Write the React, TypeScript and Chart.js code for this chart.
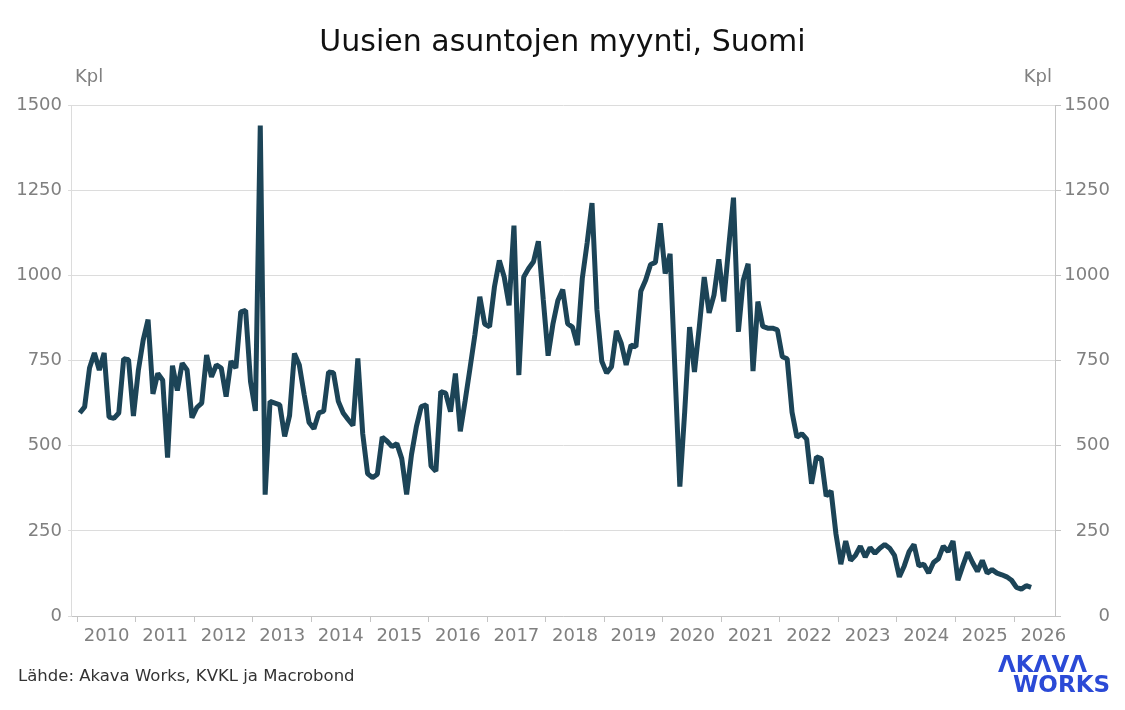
import React, { useEffect, useRef } from 'react';
import { Chart, registerables } from 'chart.js';

Chart.register(...registerables);

// Monthly sales of new dwellings (kpl)
const sales2010 = [596, 614, 728, 772, 722, 772, 584, 580, 596, 755, 752, 587];
const sales2011 = [720, 810, 870, 652, 712, 692, 465, 735, 662, 742, 722, 582];
const sales2012 = [612, 625, 766, 702, 737, 728, 644, 748, 728, 893, 897, 688];
const sales2013 = [602, 1440, 356, 630, 625, 620, 527, 588, 771, 737, 650, 568];
const sales2014 = [550, 596, 601, 716, 714, 630, 596, 577, 559, 756, 535, 418];
const sales2015 = [406, 416, 525, 513, 497, 506, 462, 357, 474, 556, 615, 620];
const sales2016 = [440, 425, 659, 654, 600, 712, 542, 632, 728, 826, 937, 857];
const sales2017 = [849, 966, 1044, 995, 912, 1146, 707, 995, 1020, 1040, 1100, 930];
const sales2018 = [764, 858, 926, 958, 858, 848, 795, 990, 1095, 1212, 900, 748];
const sales2019 = [713, 732, 837, 800, 737, 795, 790, 953, 986, 1032, 1038, 1153];
const sales2020 = [1005, 1063, 720, 380, 600, 848, 716, 850, 995, 890, 942, 1047];
const sales2021 = [923, 1080, 1228, 834, 986, 1034, 719, 923, 850, 845, 845, 840];
const sales2022 = [761, 755, 598, 525, 535, 519, 388, 467, 462, 352, 367, 241];
const sales2023 = [152, 220, 163, 178, 205, 173, 201, 184, 199, 210, 199, 178];
const sales2024 = [115, 147, 189, 210, 147, 152, 126, 157, 168, 205, 189, 220];
const sales2025 = [105, 147, 187, 157, 131, 163, 126, 136, 126, 121, 115, 105];
const sales2026 = [84, 79, 89, 84];

const years = [2010, 2011, 2012, 2013, 2014, 2015, 2016, 2017, 2018, 2019, 2020, 2021, 2022, 2023, 2024, 2025, 2026];
const salesByYear = [
  sales2010, sales2011, sales2012, sales2013, sales2014, sales2015, sales2016, sales2017,
  sales2018, sales2019, sales2020, sales2021, sales2022, sales2023, sales2024, sales2025, sales2026,
];
const yTicks = [0, 250, 500, 750, 1000, 1250, 1500];

const FONT = "'DejaVu Sans', Verdana, sans-serif";
const TICK_COLOR = '#808080';
const GRID_COLOR = '#dcdcdc';
const AXIS_COLOR = '#c4c4c4';
const LINE_COLOR = '#1c4457';

export default function App() {
  const ref = useRef<HTMLCanvasElement>(null);

  useEffect(() => {
    const points = salesByYear.flatMap((arr, yi) =>
      arr.map((v, m) => ({ x: years[yi] + (m + 0.5) / 12, y: v }))
    );
    const setYTicks = (scale: any) => {
      scale.ticks = yTicks.map((v) => ({ value: v }));
    };
    const chart = new Chart(ref.current as HTMLCanvasElement, {
      type: 'line',
      data: {
        datasets: [
          {
            data: points,
            borderColor: LINE_COLOR,
            borderWidth: 5,
            borderJoinStyle: 'bevel',
            borderCapStyle: 'butt',
            pointRadius: 0,
            tension: 0,
            fill: false,
            yAxisID: 'y',
          },
        ],
      },
      options: {
        animation: false,
        responsive: false,
        events: [],
        layout: { padding: { left: 0, right: 15, top: 105, bottom: 54 } },
        plugins: { legend: { display: false }, tooltip: { enabled: false }, title: { display: false } },
        scales: {
          x: {
            type: 'linear',
            min: 2009.892,
            max: 2026.7,
            afterBuildTicks: (scale: any) => {
              const t: { value: number }[] = [];
              years.forEach((y) => {
                t.push({ value: y });
                t.push({ value: y + 0.5 });
              });
              scale.ticks = t;
            },
            afterFit: (scale: any) => {
              scale.height = 40;
            },
            ticks: {
              autoSkip: false,
              maxRotation: 0,
              minRotation: 0,
              padding: 4,
              color: TICK_COLOR,
              font: { family: FONT, size: 18 },
              callback: (value: any) =>
                Number.isInteger(value) ? '' : String(Math.floor(Number(value))),
            },
            grid: {
              drawOnChartArea: false,
              drawTicks: true,
              tickLength: 6,
              tickColor: (ctx: any) =>
                ctx.tick && Number.isInteger(ctx.tick.value) ? AXIS_COLOR : 'rgba(0,0,0,0)',
            },
            border: { display: true, color: AXIS_COLOR, width: 1 },
          },
          y: {
            type: 'linear',
            position: 'left',
            min: 0,
            max: 1500,
            afterBuildTicks: setYTicks,
            afterFit: (scale: any) => {
              scale.width = 71;
            },
            ticks: {
              padding: 6,
              color: TICK_COLOR,
              font: { family: FONT, size: 18 },
              callback: (v: any) => String(v),
            },
            grid: {
              color: GRID_COLOR,
              lineWidth: 1,
              drawTicks: true,
              tickLength: 3,
              tickColor: GRID_COLOR,
            },
            border: { display: true, color: GRID_COLOR, width: 1 },
          },
          y2: {
            type: 'linear',
            position: 'right',
            min: 0,
            max: 1500,
            afterBuildTicks: setYTicks,
            afterFit: (scale: any) => {
              scale.width = 55;
            },
            ticks: {
              crossAlign: 'far',
              color: TICK_COLOR,
              font: { family: FONT, size: 18 },
              callback: (v: any) => String(v),
            },
            grid: {
              drawOnChartArea: false,
              drawTicks: true,
              tickLength: 6,
              tickColor: AXIS_COLOR,
            },
            border: { display: true, color: AXIS_COLOR, width: 1 },
          },
        },
      },
    });
    return () => chart.destroy();
  }, []);

  const txt = (style: React.CSSProperties): React.CSSProperties => ({
    position: 'absolute',
    whiteSpace: 'nowrap',
    fontFamily: FONT,
    margin: 0,
    ...style,
  });

  return (
    <div
      style={{
        position: 'absolute',
        left: 0,
        top: 0,
        width: 1125,
        height: 710,
        background: '#ffffff',
        overflow: 'hidden',
      }}
    >
      <canvas ref={ref} width={1125} height={710} style={{ position: 'absolute', left: 0, top: 0 }} />
      <div
        style={txt({
          left: 0,
          top: 25.6,
          width: 1125,
          textAlign: 'center',
          fontSize: 30,
          lineHeight: '30px',
          color: '#111111',
        })}
      >
        Uusien asuntojen myynti, Suomi
      </div>
      <div style={txt({ left: 75, top: 66.8, fontSize: 18, lineHeight: '18px', color: TICK_COLOR })}>Kpl</div>
      <div style={txt({ right: 73, top: 66.8, fontSize: 18, lineHeight: '18px', color: TICK_COLOR })}>Kpl</div>
      <div style={txt({ left: 18, top: 668, fontSize: 16.5, lineHeight: '16.5px', color: '#333333' })}>
        Lähde: Akava Works, KVKL ja Macrobond
      </div>
      <div
        style={txt({
          left: 998,
          top: 652.5,
          fontSize: 23,
          lineHeight: '23px',
          fontWeight: 'bold',
          color: '#2b4ad6',
        })}
      >
        ΛKΛVΛ
      </div>
      <div
        style={txt({
          left: 1013,
          top: 672.5,
          fontSize: 23,
          lineHeight: '23px',
          fontWeight: 'bold',
          color: '#2b4ad6',
        })}
      >
        WORKS
      </div>
    </div>
  );
}
